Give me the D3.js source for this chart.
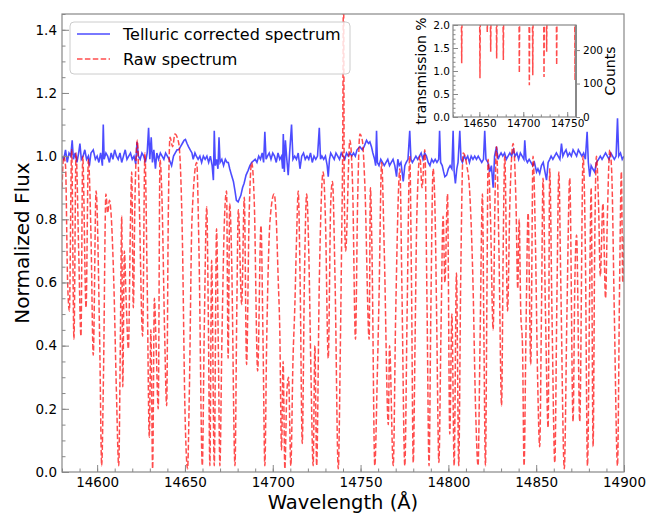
<!DOCTYPE html>
<html>
<head>
<meta charset="utf-8">
<script src="https://cdn.jsdelivr.net/npm/d3@7"></script>
<style>
body { margin: 0; background: #fff; }
text { font-family: "DejaVu Sans", sans-serif; }
</style>
</head>
<body>
<div id="chart"></div>
<script>
// telluric corrected spectrum [wavelength, flux]
var corrected = [
[14580,1.00],[14581,0.99],[14582,1.02],[14583,0.98],[14584,1.01],[14585,1.00],[14585.8,1.05],[14586.5,0.99],[14587.5,1.01],[14588.5,0.98],
[14589.5,1.01],[14590.2,1.04],[14591,0.99],[14592,1.00],[14593,1.02],[14594,0.99],[14595,1.00],[14595.6,0.97],[14596.5,1.01],[14597.8,1.02],
[14599,0.99],[14600,1.00],[14601,0.98],[14602,1.01],[14603,0.97],[14603.5,1.10],[14604,0.99],[14605,1.01],[14606,1.00],[14607,0.98],
[14608,1.01],[14609,0.99],[14610,1.02],[14611,1.00],[14612,0.99],[14613,1.01],[14614,0.98],[14615,1.00],[14616,1.02],[14617,0.99],
[14618,1.00],[14619,1.01],[14620,0.99],[14621,1.00],[14622,0.975],[14622.7,1.045],[14623.5,1.00],[14624.5,0.99],[14625.5,1.01],[14626.5,1.00],
[14627.5,0.98],[14628.5,1.01],[14629.3,1.09],[14630,0.99],[14630.8,1.06],[14631.5,0.98],[14632.3,1.02],[14633.2,0.96],[14634,1.01],[14635,0.99],
[14636,1.01],[14637,1.00],[14638,0.99],[14639,1.01],[14640,1.00],[14641,0.99],[14642.4,0.97],[14643.5,1.00],[14644.5,1.01],[14645.5,1.02],
[14646.5,1.02],[14647.5,1.03],[14648.5,1.04],[14649.5,1.05],[14650.3,1.053],[14651.2,1.04],[14652,1.03],[14653,1.02],[14654,1.01],[14654.7,0.99],
[14655.7,1.01],[14656.5,1.00],[14657.5,0.99],[14658.5,1.00],[14659.5,0.98],[14660.5,1.00],[14661.5,0.99],[14662.5,1.00],[14663.5,0.98],[14664.5,1.00],
[14665.5,0.97],[14666.2,0.924],[14666.7,1.08],[14667.3,0.97],[14668,0.99],[14668.8,0.96],[14669.4,1.06],[14670,0.98],[14671,0.99],[14672,0.97],
[14673,0.99],[14674,0.98],[14674.7,0.98],[14675.5,0.96],[14676.5,0.94],[14677.6,0.92],[14678.5,0.89],[14679.3,0.86],[14680.3,0.855],[14681,0.865],
[14681.8,0.875],[14682.8,0.90],[14683.7,0.914],[14684.8,0.94],[14686,0.955],[14687,0.97],[14688,0.98],[14689,0.985],[14690,0.99],[14691,0.98],
[14692,1.00],[14693,0.99],[14694,1.01],[14694.8,0.98],[14695.5,1.077],[14696.2,0.99],[14697,1.00],[14698,1.01],[14699,0.99],[14700,1.01],
[14701,1.00],[14702,0.98],[14703,1.01],[14704,0.99],[14705,1.00],[14705.6,0.96],[14706,1.07],[14706.6,0.95],[14707.2,1.05],[14708,0.99],
[14708.8,0.94],[14709.6,1.01],[14710.7,1.10],[14711.5,0.99],[14712.5,1.00],[14713.5,0.99],[14714.5,1.01],[14715.5,0.96],[14716.5,1.00],[14717.5,1.01],
[14718.5,0.99],[14719.5,1.00],[14720.5,0.99],[14721.5,1.01],[14722.5,0.98],[14723.5,1.00],[14724.5,0.99],[14725.5,1.00],[14726.5,1.09],[14727.2,0.99],
[14728,1.00],[14729,0.99],[14730,1.00],[14731,0.97],[14731.6,0.935],[14732.3,0.99],[14733,1.01],[14734,1.00],[14735,0.99],[14736,1.01],
[14737,1.00],[14738,0.99],[14739,1.01],[14740,1.00],[14741,0.99],[14742,1.01],[14743,1.00],[14744,1.01],[14745,1.00],[14746,1.01],
[14747,1.00],[14748,1.02],[14749.6,1.03],[14751,1.02],[14752,1.03],[14753.4,1.05],[14754.5,1.04],[14755.3,1.045],[14756.2,1.03],[14757,1.01],
[14758,0.99],[14758.6,0.97],[14759.1,1.08],[14759.6,0.98],[14760.5,0.97],[14761.5,0.99],[14762.5,0.98],[14763.5,0.97],[14764.5,0.98],[14765.5,0.99],
[14766.5,0.97],[14767.5,0.98],[14768.5,0.99],[14769.5,0.97],[14770.5,0.935],[14771.2,0.99],[14772,0.97],[14773,0.98],[14774.3,0.92],[14775.2,0.97],
[14776,0.98],[14777,0.99],[14778,1.08],[14778.7,0.99],[14779.5,0.98],[14780.5,0.99],[14781.5,1.00],[14782.5,0.99],[14783.5,1.00],[14784.5,1.01],
[14785.5,0.99],[14786.5,1.01],[14787.5,1.00],[14788.5,0.98],[14789.5,0.97],[14790.5,0.99],[14791.5,0.98],[14792.5,0.99],[14793.5,0.98],[14794.5,0.99],
[14795,1.08],[14795.6,0.98],[14796.5,0.97],[14797.3,0.95],[14798,0.935],[14799,0.94],[14800,0.96],[14801,0.97],[14802,0.96],[14802.7,1.08],
[14803.3,0.95],[14804,0.914],[14804.8,0.96],[14805.5,0.98],[14806.5,1.08],[14807.2,0.99],[14808,0.98],[14809,1.00],[14810,0.99],[14811,1.00],
[14812,0.98],[14813,1.00],[14814,0.99],[14815,1.00],[14816,0.99],[14817,1.00],[14818,0.99],[14819,0.98],[14820,0.99],[14820.7,1.08],
[14821.4,0.99],[14822.5,0.98],[14823.5,0.95],[14824.5,0.97],[14825.5,0.90],[14826.3,1.00],[14827.4,1.03],[14828.3,0.99],[14829,1.00],[14830,1.01],
[14831,1.00],[14832,1.01],[14833,0.99],[14834,1.00],[14835,1.01],[14836,1.00],[14837,1.02],[14838,1.00],[14839,1.01],[14840,0.99],
[14841,1.01],[14842,1.00],[14843,0.99],[14843.5,1.05],[14844.2,0.99],[14845,0.98],[14846,0.99],[14847,0.98],[14848,0.97],[14849,0.98],
[14850.2,0.95],[14851,0.96],[14852,0.945],[14853,0.97],[14854,0.98],[14855,0.95],[14855.9,0.924],[14856.8,0.98],[14857.7,0.99],[14858.5,1.00],
[14859.5,0.99],[14860.5,1.00],[14861.5,1.01],[14862.5,1.00],[14863.5,0.99],[14864.4,1.04],[14865.2,1.00],[14866,1.01],[14867,1.02],[14868,1.00],
[14869,1.01],[14870,1.00],[14871,1.02],[14872,1.01],[14873,1.00],[14874,1.02],[14875,1.01],[14876,1.00],[14877,1.01],[14878,0.99],
[14879,1.077],[14879.7,0.98],[14880.5,0.935],[14881.3,0.97],[14882.2,0.96],[14883.3,0.95],[14884.3,0.98],[14885.5,0.99],[14886.5,1.00],[14887.5,0.99],
[14888.5,1.00],[14889.5,1.01],[14890.5,1.00],[14891.5,0.99],[14892.5,1.01],[14893.5,1.00],[14894.5,0.99],[14895.5,1.00],[14896.3,1.12],[14897,1.00],
[14898,1.01],[14899,0.99],[14900,1.00]
];

// raw spectrum [wavelength, flux]
var raw = [
[14580.0,0.90],[14581.0,1.00],[14582.0,0.97],[14583.2,0.60],[14584.2,0.51],[14585.5,1.02],[14586.8,0.42],[14588.0,1.01],[14589.5,0.70],[14590.8,0.43],
[14591.8,1.00],[14593.7,0.52],[14595.0,0.99],[14596.5,0.75],[14597.8,0.37],[14599.4,0.89],[14601.5,0.40],[14602.6,0.02],[14603.6,0.30],[14605.0,0.88],
[14606.0,0.82],[14607.0,0.86],[14609.5,0.60],[14611.0,0.25],[14612.3,0.02],[14613.2,0.40],[14614.0,0.81],[14614.6,0.27],[14615.5,0.70],[14616.5,0.55],
[14617.8,0.39],[14619.0,0.80],[14619.7,0.95],[14620.6,0.52],[14621.5,0.85],[14622.9,1.05],[14624.0,0.85],[14625.9,0.43],[14627.2,1.01],[14628.5,0.60],
[14629.7,0.11],[14630.6,0.45],[14631.6,0.01],[14632.6,0.55],[14633.6,0.40],[14634.8,0.20],[14635.8,0.99],[14637.0,0.85],[14638.4,0.45],[14639.6,0.21],
[14640.5,0.80],[14641.5,1.06],[14643.0,1.03],[14644.3,1.07],[14646.5,1.04],[14648.5,0.75],[14650.0,0.20],[14651.5,0.01],[14652.5,0.25],[14654.0,0.80],
[14656.7,0.98],[14658.0,0.70],[14659.9,0.02],[14661.0,0.45],[14662.4,0.84],[14663.3,0.50],[14664.2,0.02],[14665.2,0.67],[14666.7,0.02],[14668.0,0.77],
[14669.0,0.40],[14669.9,0.02],[14671.0,0.40],[14672.5,0.80],[14673.7,0.89],[14674.6,0.36],[14675.5,0.85],[14676.5,0.70],[14678.5,0.02],[14679.5,0.50],
[14680.4,0.83],[14682.3,0.53],[14683.8,0.87],[14685.1,0.34],[14686.5,0.80],[14688.0,0.98],[14689.5,0.85],[14691.4,0.32],[14693.3,0.78],[14694.5,0.40],
[14695.5,0.02],[14696.5,0.40],[14698.5,0.80],[14700.8,0.88],[14702.0,0.80],[14703.1,0.61],[14704.0,0.45],[14705.0,0.07],[14705.9,0.35],[14706.9,0.01],
[14708.0,0.25],[14709.0,0.30],[14710.3,0.02],[14711.5,0.35],[14712.6,0.53],[14713.6,0.75],[14714.5,0.89],[14715.6,0.60],[14716.8,0.09],[14718.0,0.60],
[14719.3,0.88],[14720.5,0.70],[14721.8,0.30],[14723.0,0.02],[14724.0,0.40],[14725.0,0.02],[14726.5,0.60],[14728.7,0.95],[14730.0,0.80],[14731.6,0.36],
[14733.0,0.85],[14734.0,0.92],[14735.5,0.60],[14737.3,0.01],[14738.5,0.40],[14739.2,0.72],[14739.9,1.10],[14740.3,1.60],[14740.7,0.90],[14741.5,0.70],
[14743.9,1.05],[14745.5,0.90],[14747.1,0.42],[14748.3,0.85],[14749.6,1.07],[14751.0,1.05],[14752.5,0.90],[14754.9,0.42],[14755.6,0.90],[14756.5,0.70],
[14758.1,0.02],[14759.5,0.30],[14760.5,0.55],[14762.0,0.98],[14763.5,0.70],[14765.8,0.15],[14766.5,0.40],[14768.6,0.02],[14770.0,0.50],[14772.4,0.96],
[14773.5,0.60],[14775.2,0.02],[14776.5,0.50],[14778.0,1.00],[14779.0,0.60],[14780.0,0.03],[14781.0,0.40],[14782.0,0.80],[14783.8,1.00],[14785.0,0.90],
[14786.6,1.02],[14787.8,0.55],[14789.0,0.02],[14790.0,0.50],[14791.3,0.96],[14792.5,0.80],[14793.3,0.50],[14794.6,0.03],[14795.8,0.45],[14797.0,0.81],
[14798.0,0.60],[14799.5,0.88],[14800.8,0.12],[14802.0,0.50],[14803.3,0.02],[14804.6,0.63],[14805.9,0.02],[14807.0,0.60],[14808.4,1.01],[14809.5,1.00],
[14810.5,0.97],[14812.0,0.90],[14814.0,0.60],[14815.5,0.20],[14816.9,0.02],[14818.0,0.40],[14819.4,0.88],[14820.2,0.45],[14821.1,0.02],[14822.0,0.60],
[14822.6,0.99],[14824.0,0.80],[14825.5,0.45],[14826.5,0.85],[14827.4,1.03],[14828.8,0.70],[14830.3,0.21],[14831.2,0.70],[14832.1,1.00],[14833.7,0.51],
[14835.0,0.85],[14836.9,1.04],[14838.5,0.85],[14839.5,0.58],[14840.3,0.80],[14841.2,0.51],[14842.2,0.40],[14843.1,0.02],[14844.2,0.45],[14845.4,0.82],
[14846.9,0.34],[14848.2,1.00],[14849.5,0.75],[14850.8,0.30],[14852.0,0.08],[14853.0,0.50],[14853.9,0.93],[14855.3,0.50],[14856.8,0.14],[14857.7,0.96],
[14859.0,0.50],[14860.6,0.03],[14861.8,0.55],[14862.9,0.95],[14864.0,0.60],[14866.0,0.01],[14867.5,0.50],[14869.1,0.93],[14871.0,0.16],[14872.0,0.60],
[14873.0,0.75],[14874.8,0.16],[14876.7,1.00],[14878.0,0.70],[14879.2,0.02],[14880.5,0.60],[14881.3,0.90],[14882.4,0.08],[14883.3,0.70],[14884.3,1.00],
[14885.5,0.85],[14886.5,0.62],[14888.0,0.85],[14889.5,0.55],[14890.5,0.80],[14891.9,1.02],[14893.0,0.95],[14894.5,0.50],[14896.3,0.02],[14897.5,0.60],
[14898.5,0.95],[14899.3,0.60],[14900.0,0.75]
];

// inset: transmission dips (wavelength, lowest value)
var insetWl  = [14629.9, 14650.7, 14659.0, 14662.9, 14669.7, 14677.3, 14695.5, 14706.9, 14710.8, 14723.6, 14726.6, 14738.0, 14758.9];
var insetMin = [1.17, 0.84, 1.85, 1.42, 1.27, 1.24, 0.96, 0.69, 0.91, 0.87, 1.42, 1.13, 0.80];

var xTicks = [14600, 14650, 14700, 14750, 14800, 14850, 14900];
var yTicks = [0, 0.2, 0.4, 0.6, 0.8, 1.0, 1.2, 1.4];
var insetXTicks = [14650, 14700, 14750];
var insetYTicks = [0, 0.5, 1.0, 1.5, 2.0];
var countTicks = [0, 100, 200];
var legendLabels = ["Telluric corrected spectrum", "Raw spectrum"];

var W = 656, H = 514;
var m = {left: 62, right: 624, top: 14, bottom: 472};
var spine = "#888";

var svg = d3.select("#chart").append("svg").attr("width", W).attr("height", H);

var x = d3.scaleLinear().domain([14580, 14900]).range([m.left, m.right]);
var y = d3.scaleLinear().domain([0, 1.45]).range([m.bottom, m.top]);

svg.append("clipPath").attr("id", "clipMain").append("rect")
    .attr("x", m.left).attr("y", m.top).attr("width", m.right - m.left).attr("height", m.bottom - m.top);

var line = d3.line().x(function (d) { return x(d[0]); }).y(function (d) { return y(d[1]); });
var smooth = d3.line().curve(d3.curveMonotoneX).x(function (d) { return x(d[0]); }).y(function (d) { return y(d[1]); });

var plot = svg.append("g").attr("clip-path", "url(#clipMain)");
plot.append("path").datum(corrected).attr("d", line)
    .attr("fill", "none").attr("stroke", "blue").attr("stroke-opacity", 0.7).attr("stroke-width", 1.6);
plot.append("path").datum(raw).attr("d", smooth)
    .attr("fill", "none").attr("stroke", "red").attr("stroke-opacity", 0.7).attr("stroke-width", 1.5)
    .attr("stroke-dasharray", "5.5,2.4");

function styleAxis(g, size) {
    g.select(".domain").remove();
    g.selectAll(".tick line").attr("stroke", spine);
    g.selectAll(".tick text").attr("fill", "#000").style("font-size", size + "px");
}

// main axes, ticks inward
var gx = svg.append("g").attr("transform", "translate(0," + m.bottom + ")")
    .call(d3.axisBottom(x).tickValues(xTicks).tickFormat(d3.format("d")).tickSize(-7).tickPadding(5));
styleAxis(gx, 13.5);
var gxm = svg.append("g").attr("transform", "translate(0," + m.bottom + ")")
    .call(d3.axisBottom(x).ticks(32).tickFormat("").tickSize(-3.5));
styleAxis(gxm, 1);

var gy = svg.append("g").attr("transform", "translate(" + m.left + ",0)")
    .call(d3.axisLeft(y).tickValues(yTicks).tickFormat(d3.format(".1f")).tickSize(-7).tickPadding(5));
styleAxis(gy, 13.5);
var gym = svg.append("g").attr("transform", "translate(" + m.left + ",0)")
    .call(d3.axisLeft(y).ticks(29).tickFormat("").tickSize(-3.5));
styleAxis(gym, 1);

svg.append("rect").attr("x", m.left).attr("y", m.top).attr("width", m.right - m.left).attr("height", m.bottom - m.top)
    .attr("fill", "none").attr("stroke", spine).attr("stroke-width", 1.2);

svg.append("text").attr("x", (m.left + m.right) / 2).attr("y", 509).attr("text-anchor", "middle")
    .style("font-size", "19.5px").text("Wavelength (Å)");
svg.append("text").attr("transform", "translate(29," + ((m.top + m.bottom) / 2) + ") rotate(-90)")
    .attr("text-anchor", "middle").style("font-size", "20px").text("Normalized Flux");

// legend
var lg = svg.append("g");
lg.append("rect").attr("x", 70).attr("y", 22).attr("width", 280).attr("height", 52).attr("rx", 4)
    .attr("fill", "#fff").attr("fill-opacity", 0.8).attr("stroke", "#ccc");
lg.append("line").attr("x1", 77).attr("x2", 110).attr("y1", 34).attr("y2", 34)
    .attr("stroke", "blue").attr("stroke-opacity", 0.7).attr("stroke-width", 1.5);
lg.append("line").attr("x1", 77).attr("x2", 110).attr("y1", 59).attr("y2", 59)
    .attr("stroke", "red").attr("stroke-opacity", 0.7).attr("stroke-width", 1.5).attr("stroke-dasharray", "5.5,2.4");
lg.selectAll(".lt").data(legendLabels).enter().append("text").attr("class", "lt")
    .attr("x", 123).attr("y", function (d, i) { return 40 + i * 25; })
    .style("font-size", "16px").text(function (d) { return d; });

// inset
var ib = {left: 453, right: 576, top: 25, bottom: 117};
var ix = d3.scaleLinear().domain([14620, 14760]).range([ib.left, ib.right]);
var iy = d3.scaleLinear().domain([0, 2.0]).range([ib.bottom, ib.top]);
var ic = d3.scaleLinear().domain([0, 275]).range([ib.bottom, ib.top]);

svg.append("rect").attr("x", ib.left).attr("y", ib.top).attr("width", ib.right - ib.left).attr("height", ib.bottom - ib.top)
    .attr("fill", "#fff");
svg.append("clipPath").attr("id", "clipInset").append("rect")
    .attr("x", ib.left).attr("y", ib.top).attr("width", ib.right - ib.left).attr("height", ib.bottom - ib.top);

var dipLine = d3.line().x(function (d) { return ix(d[0]); }).y(function (d) { return iy(d[1]); });
svg.append("g").attr("clip-path", "url(#clipInset)").selectAll(".dip").data(insetWl).enter().append("path")
    .attr("class", "dip")
    .attr("d", function (d, i) { return dipLine([[d - 0.4, 2.3], [d, insetMin[i]], [d + 0.4, 2.3]]); })
    .attr("fill", "none").attr("stroke", "red").attr("stroke-opacity", 0.7).attr("stroke-width", 1.5)
    .attr("stroke-dasharray", "5.5,2.4");

var igx = svg.append("g").attr("transform", "translate(0," + ib.bottom + ")")
    .call(d3.axisBottom(ix).tickValues(insetXTicks).tickFormat(d3.format("d")).tickSize(-5).tickPadding(3));
styleAxis(igx, 10.5);
var igxm = svg.append("g").attr("transform", "translate(0," + ib.bottom + ")")
    .call(d3.axisBottom(ix).ticks(14).tickFormat("").tickSize(-2.5));
styleAxis(igxm, 1);
var igy = svg.append("g").attr("transform", "translate(" + ib.left + ",0)")
    .call(d3.axisLeft(iy).tickValues(insetYTicks).tickFormat(d3.format(".1f")).tickSize(-5).tickPadding(3));
styleAxis(igy, 10.5);
var igym = svg.append("g").attr("transform", "translate(" + ib.left + ",0)")
    .call(d3.axisLeft(iy).ticks(20).tickFormat("").tickSize(-2.5));
styleAxis(igym, 1);
var igr = svg.append("g").attr("transform", "translate(" + ib.right + ",0)")
    .call(d3.axisRight(ic).tickValues(countTicks).tickSize(4).tickPadding(3));
styleAxis(igr, 10.5);

svg.append("rect").attr("x", ib.left).attr("y", ib.top).attr("width", ib.right - ib.left).attr("height", ib.bottom - ib.top)
    .attr("fill", "none").attr("stroke", spine).attr("stroke-width", 1.2);
svg.append("line").attr("x1", ib.right).attr("x2", ib.right).attr("y1", ib.top).attr("y2", ib.bottom)
    .attr("stroke", spine).attr("stroke-width", 2);

svg.append("text").attr("transform", "translate(426," + ((ib.top + ib.bottom) / 2) + ") rotate(-90)")
    .attr("text-anchor", "middle").style("font-size", "14px").text("transmission %");
svg.append("text").attr("transform", "translate(615," + ((ib.top + ib.bottom) / 2) + ") rotate(-90)")
    .attr("text-anchor", "middle").style("font-size", "14px").text("Counts");
</script>
</body>
</html>
